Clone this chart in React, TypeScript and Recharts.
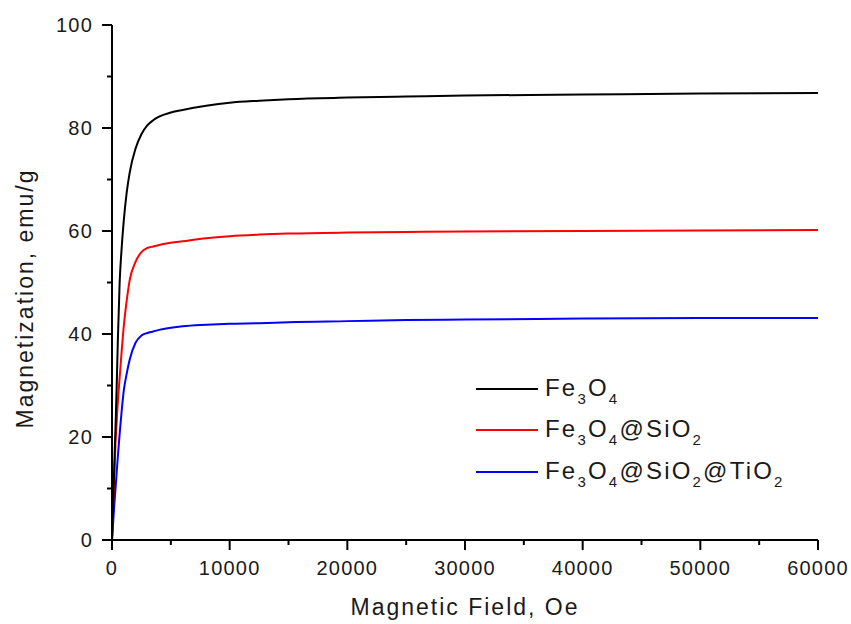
import React from 'react'
import { LineChart, Line, XAxis, YAxis, Legend, Label } from 'recharts'

// magnetic field (Oe) sampled along the curves
const fieldOe = [
  0, 100, 200, 300, 400, 500, 650, 800, 1000, 1250, 1500, 2000, 2500, 3000, 3500, 4000,
  5000, 6000, 8000, 10000, 12500, 15000, 20000, 25000, 30000, 40000, 50000, 60000,
]

// magnetization, emu/g
const fe3o4 = [
  0, 7, 15, 22, 30, 39, 50, 56, 62, 67.5, 71.3, 76, 78.8, 80.5, 81.5, 82.2,
  83, 83.5, 84.3, 84.9, 85.3, 85.6, 85.9, 86.1, 86.3, 86.5, 86.7, 86.8,
]
const fe3o4SiO2 = [
  0, 7, 12.5, 19, 23, 27, 31.5, 36, 41.5, 46.5, 50.4, 54, 55.9, 56.7, 57, 57.3,
  57.7, 58, 58.6, 59, 59.3, 59.5, 59.7, 59.8, 59.9, 60, 60.1, 60.2,
]
const fe3o4SiO2TiO2 = [
  0, 3.5, 7, 10, 13.2, 16.3, 20.6, 24.5, 29, 32.3, 35, 38.3, 39.7, 40.2, 40.5, 40.8,
  41.2, 41.5, 41.8, 42, 42.1, 42.3, 42.5, 42.7, 42.8, 43, 43.1, 43.1,
]

const xTicks = [0, 5000, 10000, 15000, 20000, 25000, 30000, 35000, 40000, 45000, 50000, 55000, 60000]
const yTicks = [0, 10, 20, 30, 40, 50, 60, 70, 80, 90, 100]

const data = fieldOe.map((x, i) => ({
  x,
  a: fe3o4[i],
  b: fe3o4SiO2[i],
  c: fe3o4SiO2TiO2[i],
}))

const FONT = '"Liberation Sans", Arial, sans-serif'

const XTick = ({ x, y, payload }: any) => {
  const major = payload.value % 10000 === 0
  return (
    <g>
      <line x1={x} x2={x} y1={y} y2={y + (major ? 10 : 5)} stroke="#000" strokeWidth={2} />
      {major && (
        <text x={x} y={y + 35} textAnchor="middle" fontFamily={FONT} fontSize={20} letterSpacing={1.2} fill="#1a1a1a">
          {payload.value}
        </text>
      )}
    </g>
  )
}

const YTick = ({ x, y, payload }: any) => {
  const major = payload.value % 20 === 0
  return (
    <g>
      <line x1={x} x2={x - (major ? 10 : 5)} y1={y} y2={y} stroke="#000" strokeWidth={2} />
      {major && (
        <text x={x - 19} y={y + 7} textAnchor="end" fontFamily={FONT} fontSize={20} letterSpacing={1.2} fill="#1a1a1a">
          {payload.value}
        </text>
      )}
    </g>
  )
}

const XTitle = ({ viewBox }: any) => (
  <text
    x={viewBox.x + viewBox.width / 2}
    y={viewBox.y + 75}
    textAnchor="middle"
    fontFamily={FONT}
    fontSize={23}
    letterSpacing={2}
    fill="#1a1a1a"
  >
    Magnetic Field, Oe
  </text>
)

const YTitle = ({ viewBox }: any) => {
  const cx = 33
  const cy = viewBox.y + viewBox.height / 2 + 16
  return (
    <text
      x={cx}
      y={cy}
      transform={`rotate(-90 ${cx} ${cy})`}
      textAnchor="middle"
      fontFamily={FONT}
      fontSize={23}
      letterSpacing={2}
      fill="#1a1a1a"
    >
      Magnetization, emu/g
    </text>
  )
}

const sub = (s: string) => (
  <span style={{ fontSize: 15, position: 'relative', top: 8 }}>{s}</span>
)

const legendRows = [
  { color: '#000000', label: <>Fe{sub('3')}O{sub('4')}</> },
  { color: '#ff0000', label: <>Fe{sub('3')}O{sub('4')}@SiO{sub('2')}</> },
  { color: '#0000ff', label: <>Fe{sub('3')}O{sub('4')}@SiO{sub('2')}@TiO{sub('2')}</> },
]

const LegendBox = () => (
  <div style={{ fontFamily: FONT, fontSize: 24, letterSpacing: 2.2, color: '#1a1a1a' }}>
    {legendRows.map((r, i) => (
      <div key={i} style={{ display: 'flex', alignItems: 'center', height: 41.5 }}>
        <div style={{ width: 62, height: 2, background: r.color, marginRight: 7 }} />
        <span style={{ lineHeight: '41.5px', whiteSpace: 'nowrap' }}>{r.label}</span>
      </div>
    ))}
  </div>
)

export default function App() {
  return (
    <div style={{ position: 'absolute', left: 0, top: 0, width: 851, height: 624, background: '#fff' }}>
      <LineChart width={851} height={624} data={data} margin={{ top: 25, right: 33, left: 0, bottom: 0 }}>
        <XAxis
          dataKey="x"
          type="number"
          domain={[0, 60000]}
          ticks={xTicks}
          interval={0}
          height={84}
          tickSize={0}
          tickMargin={0}
          tick={<XTick />}
          axisLine={{ stroke: '#000', strokeWidth: 2 }}
          allowDataOverflow
        >
          <Label content={<XTitle />} />
        </XAxis>
        <YAxis
          type="number"
          domain={[0, 100]}
          ticks={yTicks}
          interval={0}
          width={112}
          tickSize={0}
          tickMargin={0}
          tick={<YTick />}
          axisLine={{ stroke: '#000', strokeWidth: 2 }}
          allowDataOverflow
        >
          <Label content={<YTitle />} />
        </YAxis>
        <Legend
          layout="vertical"
          align="center"
          verticalAlign="middle"
          content={() => <LegendBox />}
          wrapperStyle={{ position: 'absolute', left: 476, top: 368, width: 360 }}
        />
        <Line dataKey="c" type="monotone" stroke="#0000ff" strokeWidth={2} dot={false} isAnimationActive={false} />
        <Line dataKey="b" type="monotone" stroke="#ff0000" strokeWidth={2} dot={false} isAnimationActive={false} />
        <Line dataKey="a" type="monotone" stroke="#000000" strokeWidth={2} dot={false} isAnimationActive={false} />
      </LineChart>
    </div>
  )
}
